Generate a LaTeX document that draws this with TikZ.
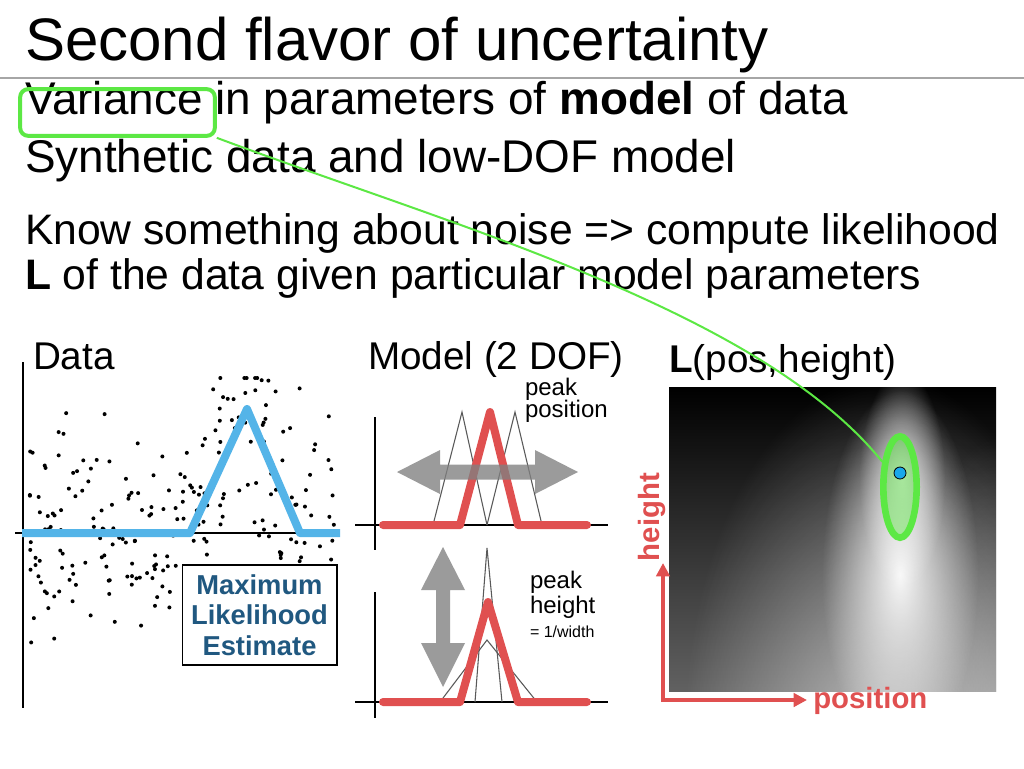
\documentclass[tikz,border=0pt]{standalone}
\usepackage{fontspec}
\setmainfont{Liberation Sans}
\usetikzlibrary{shapes.geometric,arrows.meta,fadings}
\definecolor{hlgreen}{RGB}{92,232,68}
\definecolor{mleblue}{RGB}{84,180,232}
\definecolor{mlered}{RGB}{224,80,80}
\definecolor{mletext}{RGB}{32,88,128}
\definecolor{dotblue}{RGB}{24,168,236}
\definecolor{arrowgray}{RGB}{128,128,128}
\tikzfading[name=glowfade, inner color=transparent!0, outer color=transparent!100]
\begin{document}
\begin{tikzpicture}[x=0.75pt,y=-0.75pt,
  txt/.style={anchor=base west,inner sep=0pt,outer sep=0pt},
  titletxt/.style={txt,font=\fontsize{45}{50}\selectfont},
  headtxt/.style={txt,font=\fontsize{34.4}{40}\selectfont},
  bodytxt/.style={txt,font=\fontsize{32}{38}\selectfont},
  labeltxt/.style={txt,font=\fontsize{29}{33}\selectfont},
  smalltxt/.style={txt,font=\fontsize{18}{22}\selectfont},
  tinytxt/.style={txt,font=\fontsize{12}{14}\selectfont},
  axisline/.style={line width=2.2pt,black},
  fitline/.style={line width=6pt,mleblue,line join=round},
  redline/.style={line width=6pt,mlered,line cap=round,line join=round},
  thinline/.style={line width=0.8pt,black!65},
  bigarrow/.style={fill=arrowgray,fill opacity=0.78,draw=none},
  redlbl/.style={font=\bfseries\fontsize{22}{26}\selectfont,text=mlered,inner sep=0pt},
  glow/.style={white,path fading=glowfade}
]
\fill[white] (0,0) rectangle (1024,768);
\useasboundingbox (0,0) rectangle (1024,768);

% header text
\node[titletxt] (ttl) at (25,60) {Second flavor of uncertainty};
\draw[gray!70,line width=1.2pt] (0,78) -- (1024,78);
\node[headtxt] (l1) at (25,114) {Variance in parameters of \textbf{model} of data};
\node[headtxt] (l2) at (25,172) {Synthetic data and low-DOF model};
\node[bodytxt] (l3) at (25,244) {Know something about noise => compute likelihood};
\node[bodytxt] (l4) at (25,289) {\textbf{L} of the data given particular model parameters};

% data plot
\node[labeltxt] (datalbl) at (33,369) {Data};
\pgfmathsetseed{42}
\foreach \i in {1,...,240}{
  \pgfmathsetmacro\px{28+306*rnd}
  \pgfmathsetmacro\my{533-124*max(0,min((\px-190)/57,(300-\px)/53))}
  \pgfmathsetmacro\py{max(378,min(698,\my+52*(rand+rand+rand)))}
  \fill (\px,\py) circle[radius=1.5pt];
}
\draw[axisline] (23,362) -- (23,708);
\draw[axisline] (15,533) -- (300,533);
\draw[fitline] (22,533) -- (190,533) -- (247,409) -- (300,533) -- (340,533);
\node[draw=black,line width=1pt,fill=white,minimum width=116pt,minimum height=75pt,
  align=center,font=\bfseries\fontsize{20.5}{23}\selectfont,text=mletext,inner sep=0pt]
  (mle) at (259.5,615) {Maximum\\Likelihood\\Estimate};

% model plots
\node[labeltxt] (modlbl) at (368,369) {Model (2 DOF)};
\node[smalltxt] (pp1) at (525,395) {peak};
\node[smalltxt] (pp2) at (525,417) {position};
\draw[axisline] (375,417) -- (375,550);
\draw[axisline] (355,525) -- (608,525);
\draw[thinline] (433,525) -- (462,412) -- (487,525);
\draw[thinline] (487,525) -- (515,412) -- (542,525);
\draw[redline] (383,525) -- (460,525) -- (490,412) -- (518,525) -- (587,525);
\fill[bigarrow] (397,472) -- (440,450) -- (440,464.5) -- (535,464.5) -- (535,450) -- (578,472)
  -- (535,494) -- (535,479.5) -- (440,479.5) -- (440,494) -- cycle;

\draw[axisline] (375,592) -- (375,718);
\draw[axisline] (355,702) -- (608,702);
\draw[thinline] (475,702) -- (487,548) -- (502,702);
\draw[thinline] (440,702) -- (487,640) -- (537,702);
\draw[redline] (383,702) -- (460,702) -- (488,602) -- (518,702) -- (587,702);
\fill[bigarrow] (443,547) -- (465,590) -- (450,590) -- (450,643) -- (465,643) -- (443,687)
  -- (421,643) -- (436,643) -- (436,590) -- (421,590) -- cycle;
\node[smalltxt] (ph1) at (530,588) {peak};
\node[smalltxt] (ph2) at (530,613) {height};
\node[tinytxt] (ph3) at (530,637) {= 1/width};

% likelihood map
\node[labeltxt] (llbl) at (669,372) {\textbf{L}(pos,height)};
\begin{scope}
  \clip (669,387) rectangle (996,691);
  \shade[top color=black,middle color=black!80,bottom color=black!62] (669,387) rectangle (996,691);
  \fill[glow,opacity=0.55] (885,730) ellipse [x radius=200, y radius=355];
  \fill[glow,opacity=0.3] (1000,720) ellipse [x radius=100, y radius=285];
  \fill[glow,opacity=0.95] (900,575) ellipse [x radius=78, y radius=185];
  \fill[glow,opacity=0.75] (902,480) ellipse [x radius=43, y radius=110];
\end{scope}
\node[ellipse,draw=hlgreen,line width=5pt,fill=hlgreen,fill opacity=0.45,draw opacity=1,
  minimum width=25pt,minimum height=76pt,inner sep=0pt] (ell) at (900,487) {};
\node[circle,fill=dotblue,draw=black,line width=0.6pt,minimum size=9pt,inner sep=0pt]
  (mledot) at (900,473) {};

\coordinate (origin) at (663,700);
\coordinate (htip) at (663,563);
\coordinate (ptip) at (807,700);
\draw[mlered,line width=3pt,{Triangle[length=10pt,width=10pt]}-{Triangle[length=10pt,width=10pt]}]
  (htip) -- (origin) -- (ptip);
\node[redlbl,rotate=90] (hlbl) at (652,517) {height};
\node[redlbl,anchor=base west] (plbl) at (813,708) {position};

% highlight and connector
\node[draw=hlgreen,line width=3pt,rounded corners=6pt,minimum width=146pt,minimum height=35pt,
  inner sep=0pt] (varbox) at (117.5,112.5) {};
\draw[hlgreen,line width=1.5pt] (varbox.south east) .. controls (450,225) and (760,310) .. (ell.125);
\end{tikzpicture}
\end{document}
